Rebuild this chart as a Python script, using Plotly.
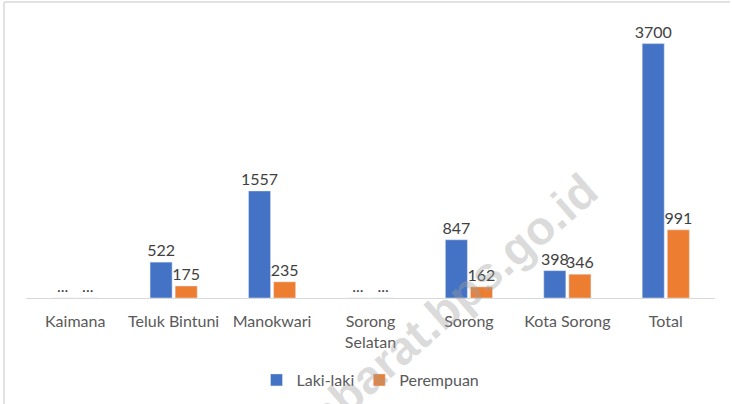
import plotly.graph_objects as go

categories = ["Kaimana", "Teluk Bintuni", "Manokwari", "Sorong<br>Selatan", "Sorong", "Kota Sorong", "Total"]
laki_laki = [None, 522, 1557, None, 847, 398, 3700]
perempuan = [None, 175, 235, None, 162, 346, 991]

def yvals(vals):
    return [0 if v is None else v for v in vals]

def texts(vals):
    return ["..." if v is None else str(v) for v in vals]

FONT = "Lato, 'Open Sans', sans-serif"
FS = 16

# plot-area geometry (pixels)
L, R, T, B = 26, 715, 23, 298
PW, PH = R - L, B - T

def px(x):
    return (x - L) / PW

def py(y):
    return (B - y) / PH

fig = go.Figure()
fig.add_trace(go.Bar(
    name="Laki-laki", x=categories, y=yvals(laki_laki), text=texts(laki_laki),
    textposition="outside", cliponaxis=False, constraintext="none",
    marker=dict(color="#4472C4"),
    textfont=dict(family=FONT, size=FS, color="#404040"),
))
fig.add_trace(go.Bar(
    name="Perempuan", x=categories, y=yvals(perempuan), text=texts(perempuan),
    textposition="outside", cliponaxis=False, constraintext="none",
    marker=dict(color="#ED7D31"),
    textfont=dict(family=FONT, size=FS, color="#404040"),
))

fig.update_layout(
    width=732, height=404,
    margin=dict(l=L, r=732 - R, t=T, b=404 - B, autoexpand=False),
    paper_bgcolor="white", plot_bgcolor="white",
    barmode="group", bargap=0.49, bargroupgap=0.12,
    font=dict(family=FONT, size=FS, color="#595959"),
    showlegend=True,
    legend=dict(orientation="h", x=0.5, xanchor="center", y=py(380), yanchor="middle",
                font=dict(family=FONT, size=FS, color="#595959"),
                itemwidth=30, traceorder="normal"),
    xaxis=dict(showline=True, linecolor="#D9D9D9", linewidth=1, ticks="",
               ticklabelstandoff=9, automargin=False,
               tickfont=dict(family=FONT, size=FS, color="#595959"), fixedrange=True),
    yaxis=dict(range=[0, 4000], showgrid=False, showticklabels=False, zeroline=False,
               showline=False, automargin=False),
    annotations=[dict(
        text="<b>papuabarat.bps.go.id</b>", xref="paper", yref="paper",
        x=px(410), y=py(339), xanchor="center", yanchor="middle",
        textangle=-41, showarrow=False,
        font=dict(family="Liberation Sans", size=47, color="rgba(160,160,160,0.38)"),
    )],
    shapes=[
        dict(type="line", xref="paper", yref="paper", x0=px(4), x1=px(4), y0=py(404), y1=py(2),
             line=dict(color="#D9D9D9", width=1.5)),
        dict(type="line", xref="paper", yref="paper", x0=px(4), x1=px(730), y0=py(2), y1=py(2),
             line=dict(color="#D9D9D9", width=1.5)),
    ],
)

fig.write_html("out.html", config={"displayModeBar": False},
               post_script="document.body.style.margin='0';")
